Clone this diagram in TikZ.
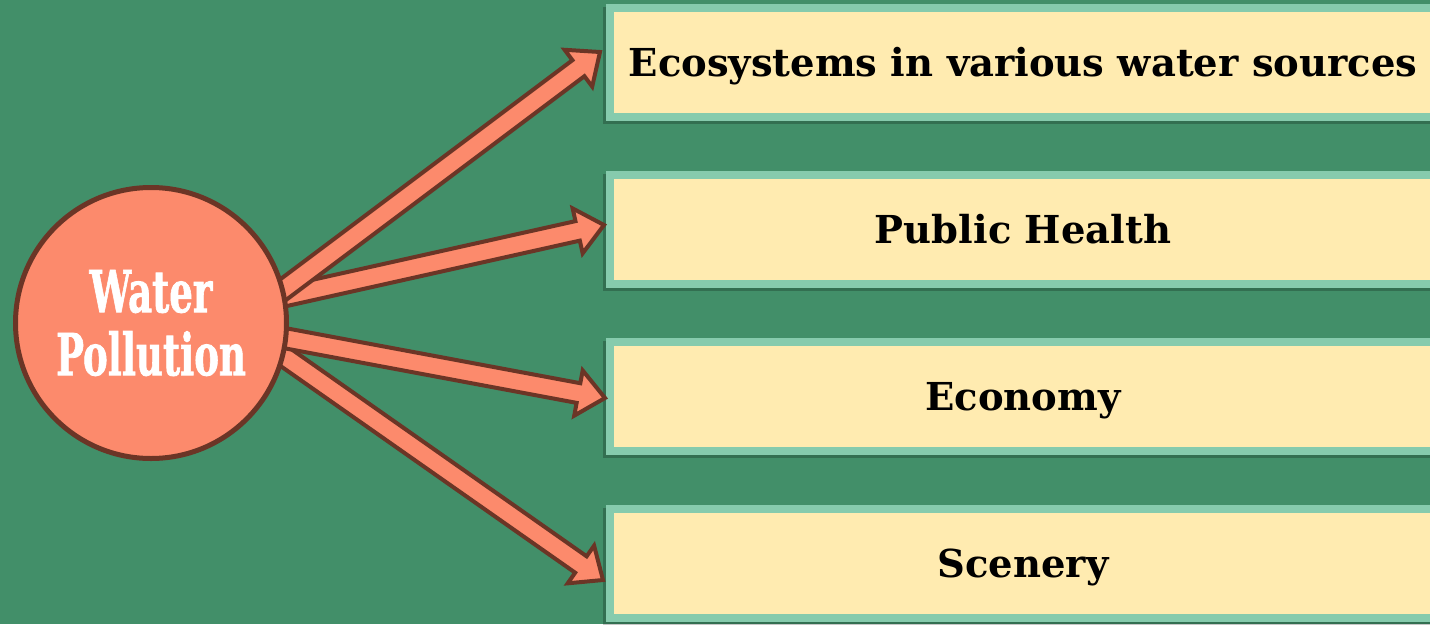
\documentclass[tikz,border=0pt]{standalone}
\usepackage{fontspec}
\setmainfont{DejaVu Serif}
\newfontfamily\heavyfont[UprightFont={* Bold},FakeBold=1.5]{DejaVu Serif}
\usetikzlibrary{calc}
\definecolor{bg}{HTML}{428F69}
\definecolor{mint}{HTML}{86CBAD}
\definecolor{cream}{HTML}{FFEBB0}
\definecolor{salmon}{HTML}{FC8A6C}
\definecolor{brownline}{HTML}{6B3526}
\tikzset{
  itembox/.style={draw=mint, line width=8pt, fill=cream, minimum width=826pt, minimum height=109pt,
    inner sep=0pt, text height=28pt, text depth=0pt, font=\fontsize{38.5}{46}\selectfont\bfseries},
  hub/.style={circle, draw=brownline, line width=5pt, fill=salmon, minimum size=271pt, inner sep=0pt,
    text=white, align=center, font=\fontsize{58}{63}\selectfont\heavyfont},
  fatarrow/.style={draw=brownline, line width=4pt, fill=salmon, line join=miter},
  boxshadow/.style={fill=black, opacity=0.22}
}
\newcommand{\fatarr}[2]{%
  \coordinate (hb) at ($(#2)!27pt!(#1)$);
  \draw[fatarrow] ($(#1)!10pt!90:(#2)$) -- ($(hb)!10pt!90:(#2)$) -- ($(hb)!23pt!90:(#2)$) -- (#2)
    -- ($(hb)!23pt!-90:(#2)$) -- ($(hb)!10pt!-90:(#2)$) -- ($(#1)!10pt!-90:(#2)$) -- cycle;
}
\begin{document}
\begin{tikzpicture}[x=1pt,y=-1pt]
\fill[bg] (0,0) rectangle (1430,624);
\useasboundingbox (0,0) rectangle (1430,624);
% shadows
\foreach \yy in {62,229,396,563}{
  \fill[boxshadow] (603,\yy-55) rectangle (1440,\yy+62);
}
\node[itembox] (b1) at (1023,62) {Ecosystems in various water sources};
\node[itembox] (b2) at (1023,229) {Public Health};
\node[itembox] (b3) at (1023,396) {Economy};
\node[itembox] (b4) at (1023,563) {Scenery};
% arrow tails and tips
\coordinate (s1) at (268,301);
\coordinate (t1) at ([shift={(-6,-10)}]b1.west);
\coordinate (s2) at (268,300);
\coordinate (t2) at ([shift={(-2,-4)}]b2.west);
\coordinate (s3) at (268,335);
\coordinate (t3) at ([shift={(-1,2)}]b3.west);
\coordinate (s4) at (268,345);
\coordinate (t4) at ([shift={(-3,17)}]b4.west);
\fatarr{s2}{t2}
\fatarr{s1}{t1}
\fatarr{s4}{t4}
\fatarr{s3}{t3}
\node[hub] (wp) at (151,323) {\scalebox{0.64}[1]{Water}\\\scalebox{0.64}[1]{Pollution}};
\end{tikzpicture}
\end{document}
